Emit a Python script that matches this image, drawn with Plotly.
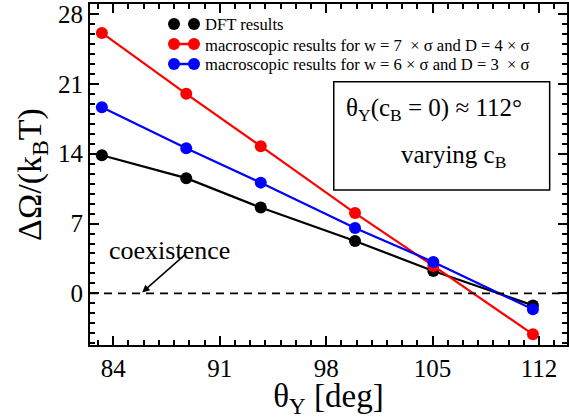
import plotly.graph_objects as go

# Contact angle theta_Y [deg] for each c_B value
theta = [83.25, 88.8, 93.7, 99.9, 105.05, 111.6]

# Grand-potential barrier Delta Omega / (k_B T)
dft = [13.85, 11.55, 8.6, 5.25, 2.25, -1.2]
macro_w7_d4 = [26.1, 20.0, 14.75, 8.05, 2.75, -4.1]
macro_w6_d3 = [18.65, 14.55, 11.1, 6.55, 3.15, -1.6]

series_names = [
    "DFT results",
    "macroscopic results for w = 7  × σ and D = 4 × σ",
    "macroscopic results for w = 6 × σ and D = 3  × σ",
]
series_colors = ["#000000", "#ff0000", "#0000ff"]
series_values = [dft, macro_w7_d4, macro_w6_d3]

x_ticks = [84, 91, 98, 105, 112]
y_ticks = [0, 7, 14, 21, 28]

FONT = "Liberation Serif, Times New Roman, serif"

fig = go.Figure()

for name, color, vals in zip(series_names, series_colors, series_values):
    fig.add_trace(go.Scatter(
        x=theta, y=vals, name=name, mode="lines+markers",
        line=dict(color=color, width=2.2),
        marker=dict(color=color, size=12),
        showlegend=False, cliponaxis=False,
    ))

# coexistence line at zero
fig.add_hline(y=0, line=dict(color="black", width=1.8, dash="8px,6px"))

# hand-drawn style legend: a short line with a dot at each end
W, H = 569, 419
L, R, T, B = 90, 2, 4, 74
pw, ph = W - L - R, H - T - B


def px_x(p):
    return (p - L) / pw


def px_y(p):
    return (H - B - p) / ph


shapes = []
annotations = []
rows = [24, 44, 64]
for (name, color), ry in zip(zip(series_names, series_colors), rows):
    shapes.append(dict(type="line", xref="paper", yref="paper",
                       x0=px_x(174), x1=px_x(194), y0=px_y(ry), y1=px_y(ry),
                       line=dict(color=color, width=2.5)))
    for cx in (174, 194):
        shapes.append(dict(type="circle", xref="paper", yref="paper",
                           xsizemode="pixel", ysizemode="pixel",
                           xanchor=px_x(cx), yanchor=px_y(ry),
                           x0=-6, x1=6, y0=-6, y1=6,
                           fillcolor=color, line=dict(color=color, width=0)))
    annotations.append(dict(xref="paper", yref="paper", x=px_x(203), y=px_y(ry + 1),
                            text=name, showarrow=False, xanchor="left", yanchor="middle",
                            font=dict(family=FONT, size=16.6, color="black")))

# info box
shapes.append(dict(type="rect", xref="x", yref="y", x0=98.5, x1=112.7, y0=10.35, y1=21.2,
                   line=dict(color="black", width=1.5), fillcolor="rgba(0,0,0,0)"))
annotations.append(dict(xref="x", yref="y", x=105.1, y=18.4,
                        text="θ<sub>Y</sub>(c<sub>B</sub> = 0) ≈ 112°", showarrow=False,
                        font=dict(family=FONT, size=25, color="black")))
annotations.append(dict(xref="x", yref="y", x=106.4, y=13.7,
                        text="varying c<sub>B</sub>", showarrow=False,
                        font=dict(family=FONT, size=25, color="black")))

# coexistence label with arrow
annotations.append(dict(xref="x", yref="y", x=85.9, y=0.1, ax=88.8, ay=4.0,
                        axref="x", ayref="y", text="", showarrow=True,
                        arrowhead=2, arrowsize=1, arrowwidth=1.5, arrowcolor="black"))
annotations.append(dict(xref="x", yref="y", x=83.6, y=4.3,
                        text="coexistence", showarrow=False, xanchor="left", yanchor="middle",
                        font=dict(family=FONT, size=26, color="black")))

axis_common = dict(
    showline=True, linecolor="black", linewidth=2, mirror="allticks",
    ticks="inside", ticklen=9, tickwidth=2, tickcolor="black",
    showgrid=False, zeroline=False, automargin=False,
    tickfont=dict(family=FONT, size=25, color="black"),
)

fig.update_layout(
    width=W, height=H,
    margin=dict(l=L, r=R, t=T, b=B),
    paper_bgcolor="white", plot_bgcolor="white",
    shapes=shapes, annotations=annotations,
    xaxis=dict(range=[82.47, 113.84], tickvals=x_ticks,
               minor=dict(dtick=1, tick0=84, ticks="inside", ticklen=5, tickwidth=1.5,
                          tickcolor="black", showgrid=False),
               title=dict(text="θ<sub>Y</sub> [deg]", standoff=8,
                          font=dict(family=FONT, size=33, color="black")),
               **axis_common),
    yaxis=dict(range=[-5.17, 29.0], tickvals=y_ticks,
               minor=dict(dtick=1, tick0=0, ticks="inside", ticklen=5, tickwidth=1.5,
                          tickcolor="black", showgrid=False),
               title=dict(text="ΔΩ/(k<sub>B</sub>T)", standoff=6,
                          font=dict(family=FONT, size=34, color="black")),
               **axis_common),
)

fig.write_html("out.html")
